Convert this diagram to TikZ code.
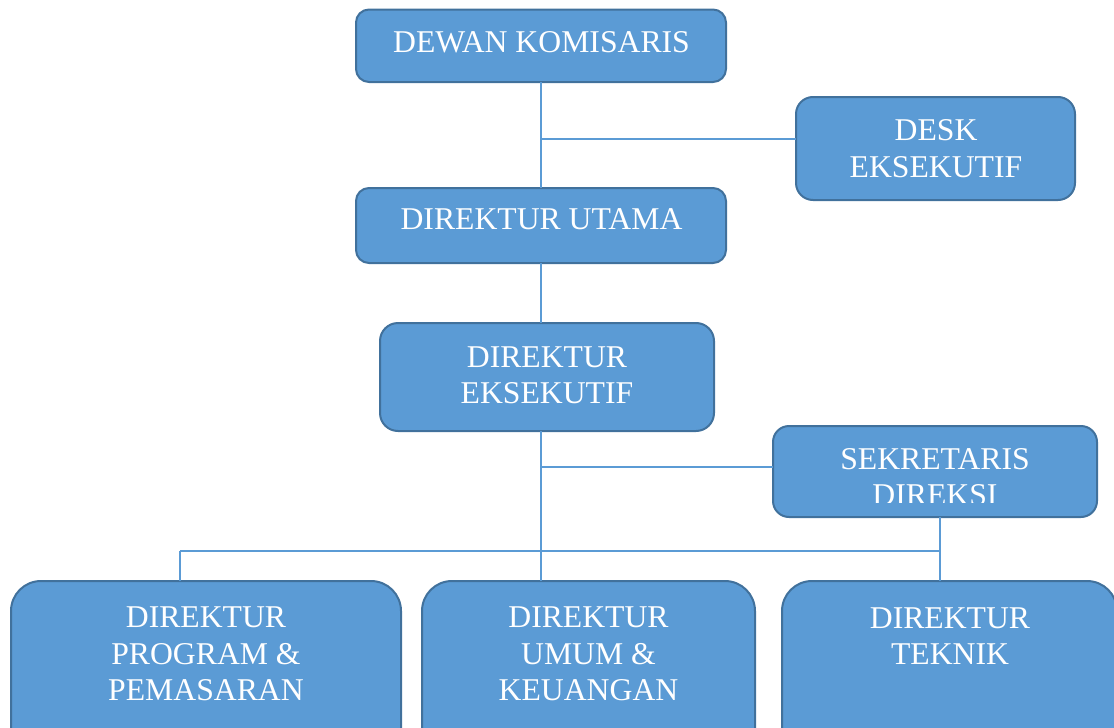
\documentclass[tikz,border=0pt]{standalone}
\usepackage{fontspec}
\setmainfont{Liberation Serif}
\definecolor{boxfill}{HTML}{5B9BD5}
\definecolor{boxline}{HTML}{41719C}
\definecolor{wirecol}{HTML}{5B9BD5}
\begin{document}
\begin{tikzpicture}[x=1pt,y=-1pt,
  box/.style={draw=boxline, fill=boxfill, line width=2pt, inner sep=0pt, outer sep=0pt},
  lbl/.style={text=white, align=center, inner sep=0pt,
              font=\fontsize{31.7}{36.4}\selectfont},
  wire/.style={draw=wirecol, line width=1.2pt}]
\useasboundingbox (0,0) rectangle (1114,728);
\clip (0,0) rectangle (1114,728);

% boxes
\node[box, rounded corners=13pt, minimum width=370pt, minimum height=72.5pt] (dewan) at (541,45.75) {};
\node[box, rounded corners=17pt, minimum width=279pt, minimum height=103pt] (desk) at (935.5,148.5) {};
\node[box, rounded corners=13pt, minimum width=370pt, minimum height=75pt] (utama) at (541,225.5) {};
\node[box, rounded corners=18pt, minimum width=334pt, minimum height=108pt] (eks) at (547,377) {};
\node[box, rounded corners=16pt, minimum width=324pt, minimum height=91pt] (sek) at (935,471.5) {};
\node[box, rounded corners=30pt, minimum width=390pt, minimum height=179pt] (prog) at (206,670.5) {};
\node[box, rounded corners=30pt, minimum width=333pt, minimum height=179pt] (umum) at (588.5,670.5) {};
\node[box, rounded corners=30pt, minimum width=335pt, minimum height=179pt] (tek) at (949.5,670.5) {};

% labels
\node[lbl] (tdewan) at (541.5,42.5) {DEWAN KOMISARIS};
\node[lbl] (tdesk) at (936,148.5) {DESK\\EKSEKUTIF};
\node[lbl] (tutama) at (541.5,219) {DIREKTUR UTAMA};
\node[lbl] (teks) at (547,375) {DIREKTUR\\EKSEKUTIF};
\begin{scope}
  \clip (773,426) rectangle (1097,502);
  \node[lbl] (tsek) at (935,477.3) {SEKRETARIS\\DIREKSI};
\end{scope}
\node[lbl] (tprog) at (206,654) {DIREKTUR\\PROGRAM \&\\PEMASARAN};
\node[lbl] (tumum) at (588.5,654) {DIREKTUR\\UMUM \&\\KEUANGAN};
\node[lbl] (ttek) at (950,636) {DIREKTUR\\TEKNIK};

% connectors
\coordinate (j1) at (541,139);
\coordinate (j2) at (541,467);
\coordinate (hl) at (180,551);
\coordinate (hr) at (940,551);
\draw[wire] (dewan.south) -- (utama.north);
\draw[wire] (j1) -- (j1 -| desk.west);
\draw[wire] (utama.south) -- (utama.south |- eks.north);
\draw[wire] (utama.south |- eks.south) -- (utama.south |- umum.north);
\draw[wire] (j2) -- (j2 -| sek.west);
\draw[wire] (hl) -- (hr);
\draw[wire] (hl) -- (hl |- prog.north);
\draw[wire] (hr |- sek.south) -- (hr |- tek.north);
\end{tikzpicture}
\end{document}
